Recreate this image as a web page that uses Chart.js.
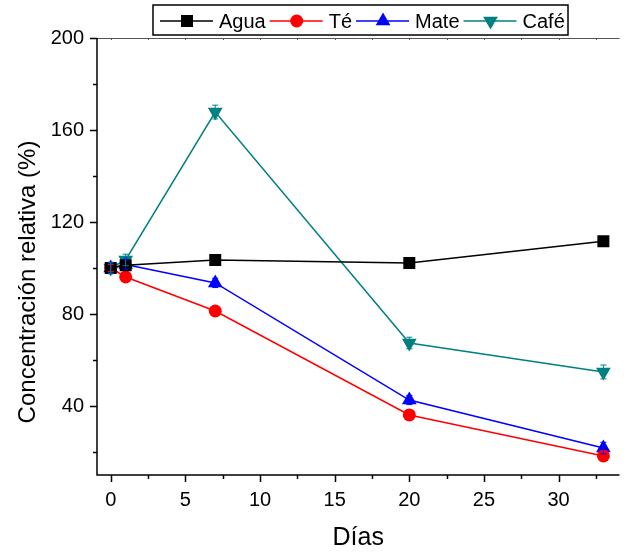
<!DOCTYPE html>
<html>
<head>
<meta charset="utf-8">
<script src="https://cdn.jsdelivr.net/npm/chart.js@4.4.1/dist/chart.umd.min.js"></script>
<style>
    html, body { margin: 0; padding: 0; background: #fff; }
    #wrap { width: 628px; height: 554px; }
</style>
</head>
<body>
<div id="wrap"><canvas id="lineChart" width="628" height="554"></canvas></div>
<script>
// days of sampling
const dias = [0, 1, 7, 20, 33];

// relative concentration (%)
const agua = [100, 101.2, 103.5, 102.2, 111.6];
const te   = [100, 96.1, 81.3, 36.1, 18.3];
const mate = [100, 101.5, 93.5, 42.6, 21.7];
const cafe = [100, 103.5, 167.8, 67.4, 54.8];

// small error bars seen on the points
const aguaErr = [1.5, 1.5, 1.5, 1.5, 1.5];
const teErr   = [1.5, 1.5, 1.5, 1.5, 2];
const mateErr = [2, 2, 2, 2, 2.5];
const cafeErr = [2.5, 2.5, 3, 2.5, 3];

const xTicks = [0, 2.5, 5, 7.5, 10, 12.5, 15, 17.5, 20, 22.5, 25, 27.5, 30, 32.5];
const yTicks = [20, 40, 60, 80, 100, 120, 140, 160, 180, 200];

const FONT = '"Liberation Sans", Arial, sans-serif';

function toPoints(values) {
    return dias.map((d, i) => ({ x: d, y: values[i] }));
}

const ds = [
    { label: 'Agua', data: toPoints(agua), err: aguaErr, borderColor: '#000000', backgroundColor: '#000000', pointStyle: 'rect', pointRadius: 8.5, rotation: 0 },
    { label: 'Té', data: toPoints(te), err: teErr, borderColor: '#ff0000', backgroundColor: '#ff0000', pointStyle: 'circle', pointRadius: 6.5, rotation: 0 },
    { label: 'Mate', data: toPoints(mate), err: mateErr, borderColor: '#0000ff', backgroundColor: '#0000ff', pointStyle: 'triangle', pointRadius: 8.5, rotation: 0 },
    { label: 'Café', data: toPoints(cafe), err: cafeErr, borderColor: '#008080', backgroundColor: '#008080', pointStyle: 'triangle', pointRadius: 8.5, rotation: 180 }
];
ds.forEach(d => {
    d.borderWidth = 1.5;
    d.fill = false;
    d.tension = 0;
    d.pointBorderWidth = 0;
    d.pointHoverRadius = d.pointRadius;
});

// small marker drawer for the legend
function marker(c, style, r, rot, x, y) {
    c.beginPath();
    if (style === 'rect') {
        const s = r * Math.SQRT1_2;
        c.rect(x - s, y - s, 2 * s, 2 * s);
    } else if (style === 'circle') {
        c.arc(x, y, r, 0, Math.PI * 2);
    } else {
        const a = rot * Math.PI / 180;
        for (let k = 0; k < 3; k++) {
            const t = a + k * 2 * Math.PI / 3;
            const px = x + Math.sin(t) * r;
            const py = y - Math.cos(t) * r;
            if (k === 0) c.moveTo(px, py); else c.lineTo(px, py);
        }
        c.closePath();
    }
    c.fill();
}

// error bars + tick marks + frame + legend + y title
const extras = {
    id: 'extras',
    afterDatasetsDraw(chart) {
        const c = chart.ctx;
        const ys = chart.scales.y;
        chart.data.datasets.forEach((d, di) => {
            const meta = chart.getDatasetMeta(di);
            c.save();
            c.strokeStyle = d.borderColor;
            c.lineWidth = 1;
            meta.data.forEach((pt, i) => {
                const v = d.data[i].y;
                const y1 = ys.getPixelForValue(v + d.err[i]);
                const y2 = ys.getPixelForValue(v - d.err[i]);
                c.beginPath();
                c.moveTo(pt.x, y1); c.lineTo(pt.x, y2);
                c.moveTo(pt.x - 3, y1); c.lineTo(pt.x + 3, y1);
                c.moveTo(pt.x - 3, y2); c.lineTo(pt.x + 3, y2);
                c.stroke();
            });
            c.restore();
        });
    },
    afterDraw(chart) {
        const c = chart.ctx;
        const a = chart.chartArea;
        const xs = chart.scales.x, ys = chart.scales.y;
        c.save();
        // top frame
        c.strokeStyle = '#555';
        c.lineWidth = 1;
        c.beginPath();
        c.moveTo(a.left, a.top + 0.5); c.lineTo(a.right, a.top + 0.5);
        xTicks.forEach(t => {
            const x = Math.round(xs.getPixelForValue(t)) + 0.5;
            c.moveTo(x, a.top); c.lineTo(x, a.top + 2);
        });
        c.stroke();
        // axes
        c.strokeStyle = '#000';
        c.lineWidth = 1.5;
        c.beginPath();
        c.moveTo(a.left, a.top); c.lineTo(a.left, a.bottom); c.lineTo(a.right, a.bottom);
        xTicks.forEach(t => {
            const x = Math.round(xs.getPixelForValue(t)) + 0.5;
            c.moveTo(x, a.bottom); c.lineTo(x, a.bottom + (t % 5 === 0 ? 7 : 4));
        });
        yTicks.forEach(t => {
            const y = Math.round(ys.getPixelForValue(t)) + 0.5;
            c.moveTo(a.left, y); c.lineTo(a.left - (t % 40 === 0 ? 7 : 4), y);
        });
        c.stroke();

        // y axis title
        c.save();
        c.translate(28, 282);
        c.rotate(-Math.PI / 2);
        c.fillStyle = '#000';
        c.font = '24px ' + FONT;
        c.textAlign = 'center';
        c.textBaseline = 'middle';
        c.fillText('Concentración relativa (%)', 0, 0);
        c.restore();

        // legend
        const top = 5, bottom = 35, left = 153, right = 568;
        c.fillStyle = '#fff';
        c.fillRect(left, top, right - left, bottom - top);
        c.strokeStyle = '#000';
        c.lineWidth = 1.5;
        c.strokeRect(left, top, right - left, bottom - top);
        c.font = '20px ' + FONT;
        c.textBaseline = 'middle';
        c.textAlign = 'left';
        let x = 160;
        const cy = 21;
        chart.data.datasets.forEach(d => {
            c.strokeStyle = d.borderColor;
            c.lineWidth = 1.5;
            c.beginPath();
            c.moveTo(x, cy); c.lineTo(x + 53, cy);
            c.stroke();
            c.fillStyle = d.backgroundColor;
            marker(c, d.pointStyle, d.pointRadius, d.rotation, x + 27, cy);
            c.fillStyle = '#000';
            c.fillText(d.label, x + 59, cy + 1);
            x += 59 + c.measureText(d.label).width + 4;
        });
        c.restore();
    }
};

const config = {
    type: 'line',
    data: { datasets: ds },
    plugins: [extras],
    options: {
        responsive: false,
        animation: false,
        layout: { padding: { top: 38, right: 0, left: 0, bottom: 0 } },
        plugins: {
            legend: { display: false },
            tooltip: { enabled: false }
        },
        scales: {
            x: {
                type: 'linear',
                min: -0.92,
                max: 34.08,
                afterBuildTicks: s => { s.ticks = xTicks.map(v => ({ value: v })); },
                afterFit: s => { s.height = 79; },
                grid: { display: false, drawTicks: false },
                border: { display: false },
                ticks: {
                    autoSkip: false,
                    maxRotation: 0,
                    padding: 13,
                    color: '#000',
                    font: { family: FONT, size: 20 },
                    callback: v => (v % 5 === 0 ? String(v) : '')
                },
                title: {
                    display: true,
                    text: 'Días',
                    color: '#000',
                    font: { family: FONT, size: 25 },
                    padding: { top: 0, bottom: 1 }
                }
            },
            y: {
                min: 10,
                max: 200,
                afterBuildTicks: s => { s.ticks = yTicks.map(v => ({ value: v })); },
                afterFit: s => { s.width = 97; },
                grid: { display: false, drawTicks: false },
                border: { display: false },
                ticks: {
                    autoSkip: false,
                    padding: 13,
                    color: '#000',
                    font: { family: FONT, size: 20 },
                    callback: v => (v % 40 === 0 ? String(v) : '')
                },
                title: { display: false }
            }
        }
    }
};

new Chart(document.getElementById('lineChart').getContext('2d'), config);
</script>
</body>
</html>
